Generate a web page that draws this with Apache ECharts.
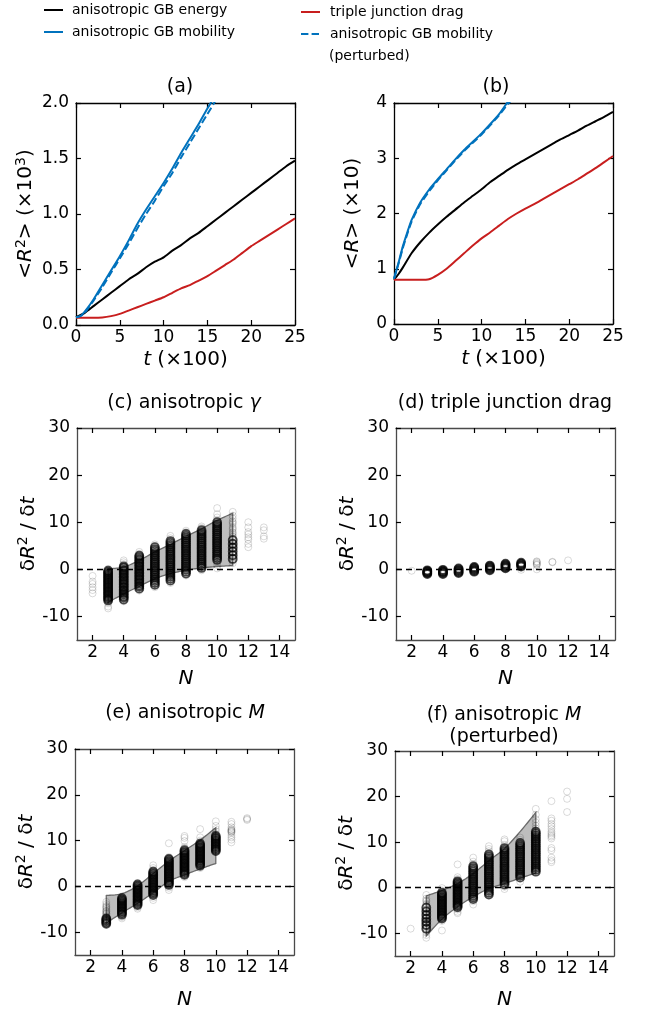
<!DOCTYPE html>
<html><head><meta charset="utf-8">
<script src="https://cdn.jsdelivr.net/npm/echarts@6/dist/echarts.min.js"></script>
<style>html,body{margin:0;padding:0;background:#fff}#c{width:645px;height:1011px}</style>
</head><body><div id="c"></div>
<script>
// ---------------- DATA ----------------
// (a) <R^2> (x10^3) vs t (x100)
const tA = [0,1,2,3,4,5,6,7,8,9,10,11,12,13,14,15,16,17,18,19,20,21,22,23,24,25];
const a_energy = [0.07,0.11,0.17,0.23,0.29,0.35,0.41,0.46,0.52,0.57,0.61,0.67,0.72,0.78,0.83,0.89,0.95,1.01,1.07,1.13,1.19,1.25,1.31,1.37,1.43,1.48];
const a_drag   = [0.065,0.065,0.065,0.068,0.08,0.10,0.13,0.16,0.19,0.22,0.25,0.29,0.33,0.36,0.40,0.44,0.49,0.54,0.59,0.65,0.71,0.76,0.81,0.86,0.91,0.96];
const tA_mob = [0,0.5,1,2,3,4,5,6,7,8,9,10,11,12,13,14,15,16];
const a_mobility     = [0.07,0.08,0.12,0.23,0.36,0.49,0.62,0.76,0.91,1.04,1.16,1.28,1.41,1.55,1.68,1.81,1.95,2.08];
const a_mobilityPert = [0.07,0.08,0.11,0.22,0.34,0.47,0.60,0.73,0.87,1.00,1.12,1.25,1.37,1.51,1.64,1.77,1.90,2.03];

// (b) <R> (x10) vs t (x100)
const tB = [0,0.5,1,2,3,4,5,6,7,8,9,10,11,12,13,14,15,16,17,18,19,20,21,22,23,24,25];
const b_energy = [0.80,0.90,1.02,1.28,1.48,1.65,1.80,1.94,2.07,2.20,2.32,2.44,2.57,2.68,2.79,2.89,2.98,3.07,3.16,3.25,3.34,3.42,3.50,3.59,3.67,3.75,3.84];
const b_drag   = [0.80,0.80,0.80,0.80,0.81,0.89,1.00,1.14,1.28,1.42,1.55,1.66,1.78,1.90,2.00,2.09,2.17,2.26,2.35,2.44,2.53,2.62,2.72,2.82,2.93,3.04,3.13];
const tB_mob = [0,0.5,1,1.5,2,3,4,5,6,7,8,9,10,11,12,13,14];
const b_mobility     = [0.82,1.10,1.40,1.65,1.88,2.20,2.43,2.62,2.80,2.98,3.15,3.30,3.45,3.62,3.80,4.02,4.20];
const b_mobilityPert = [0.82,1.08,1.37,1.62,1.85,2.17,2.40,2.60,2.78,2.96,3.13,3.28,3.43,3.60,3.78,3.98,4.16];

// scatter clouds: dR^2/dt per number of neighbours N (dense core / faint outliers)
const cCore = {
 3:[-6.6,-6.3,-6.0,-5.7,-5.4,-5.1,-4.8,-4.5,-4.2,-3.9,-3.6,-3.3,-3.0,-2.7,-2.4,-2.1,-1.8,-1.5,-1.2,-0.9,-0.6,-0.3],
 4:[-6.4,-6.0,-5.7,-5.3,-5.0,-4.6,-4.3,-3.9,-3.6,-3.2,-2.9,-2.5,-2.2,-1.8,-1.5,-1.1,-0.8,-0.4,-0.1,0.3,0.6],
 5:[-4.1,-3.7,-3.4,-3.0,-2.7,-2.3,-2.0,-1.6,-1.3,-0.9,-0.6,-0.2,0.1,0.5,0.8,1.2,1.5,1.9,2.2,2.6,2.9],
 6:[-3.3,-2.9,-2.5,-2.1,-1.7,-1.3,-0.9,-0.5,-0.1,0.3,0.7,1.1,1.5,1.9,2.3,2.7,3.1,3.5,3.9,4.3,4.7],
 7:[-2.4,-2.0,-1.6,-1.2,-0.8,-0.4,0.0,0.4,0.8,1.2,1.6,2.0,2.4,2.8,3.2,3.6,4.0,4.4,4.8,5.2,5.6,6.0],
 8:[-0.9,-0.5,-0.1,0.3,0.7,1.1,1.5,1.9,2.3,2.7,3.1,3.5,3.9,4.3,4.7,5.1,5.5,5.9,6.3,6.7,7.1,7.5],
 9:[0.3,0.7,1.1,1.5,1.9,2.3,2.7,3.1,3.5,3.9,4.3,4.7,5.1,5.5,5.9,6.3,6.7,7.1,7.5,7.9,8.3],
 10:[2.0,2.4,2.8,3.2,3.6,4.0,4.4,4.8,5.2,5.6,6.0,6.4,6.8,7.2,7.6,8.0,8.4,8.8,9.2,9.6,10.0],
 11:[2.2,3.0,3.8,4.6,5.4,6.2]
};
const cFaint = {
 2:[-1.4,-2.6,-3.1,-3.8,-4.4,-5.1],
 3:[-8.3,-7.9,-7.2,0.1],
 4:[1.1,1.5,1.9,-6.8],
 5:[3.3,3.7,-4.5],
 6:[5.3,-3.8],
 7:[6.6,7.1,-2.9],
 8:[7.9,8.2,-1.3],
 9:[8.8,9.1,-0.2],
 10:[13.0,11.7,11.0,10.5,1.5,0.9,0.2],
 11:[12.2,11.4,10.8,10.2,9.6,9.0,8.4,7.9,7.4,7.0,6.6,5.8,5.0,4.2,3.4,2.6,1.8,1.3,6.9,5.6,4.9,3.1,2.4,9.9,8.7,7.7],
 12:[10.0,8.9,7.9,7.4,6.8,6.3,5.4,4.7],
 13:[8.9,8.3,7.0,6.5]
};
const dCore = {
 3:[-1.0,-0.8,-0.7,-0.5,-0.4,-0.2],
 4:[-1.0,-0.8,-0.6,-0.5,-0.3,-0.1],
 5:[-0.8,-0.6,-0.4,-0.2,0.0,0.2],
 6:[-0.5,-0.3,-0.1,0.1,0.3,0.5],
 7:[-0.2,0.0,0.2,0.4,0.6,0.8],
 8:[0.2,0.4,0.6,0.8,1.0,1.2],
 9:[0.6,0.8,1.0,1.2,1.4]
};
const dFaint = {2:[-0.3], 9:[-0.1], 10:[0.0,0.9,1.0,1.2,1.4,1.6,1.7], 11:[1.5,1.6], 12:[1.9]};
const eCore = {
 3:[-8.2,-7.9,-7.6,-7.3,-7.0],
 4:[-6.2,-5.9,-5.6,-5.3,-5.0,-4.7,-4.4,-4.1,-3.8,-3.5,-3.2,-2.9,-2.6],
 5:[-4.1,-3.8,-3.5,-3.2,-2.9,-2.6,-2.3,-2.0,-1.7,-1.4,-1.1,-0.8,-0.5,-0.2,0.1,0.4],
 6:[-1.9,-1.6,-1.3,-1.0,-0.7,-0.4,-0.1,0.2,0.5,0.8,1.1,1.4,1.7,2.0,2.3,2.6,2.9,3.2],
 7:[0.3,0.6,0.9,1.2,1.5,1.8,2.1,2.4,2.7,3.0,3.3,3.6,3.9,4.2,4.5,4.8,5.1,5.4,5.7,6.0],
 8:[2.5,2.8,3.1,3.4,3.7,4.0,4.3,4.6,4.9,5.2,5.5,5.8,6.1,6.4,6.7,7.0,7.3,7.6,7.9],
 9:[4.5,4.8,5.1,5.4,5.7,6.0,6.3,6.6,6.9,7.2,7.5,7.8,8.1,8.4,8.7,9.0,9.3],
 10:[7.7,8.0,8.3,8.6,8.9,9.2,9.5,9.8,10.1,10.4,10.7,11.0]
};
const eFaint = {
 3:[-3.4,-3.9,-4.3,-4.7,-5.0,-5.3,-5.6,-5.9,-6.2,-6.5,-6.8,-5.5,-6.0,-4.5],
 4:[-2.2,-6.7,-7.0],
 5:[0.7,-4.6,-4.9],
 6:[3.6,4.0,4.6,-2.5,-3.0],
 7:[6.4,9.4,-0.3,-0.8],
 8:[11.0,10.6,9.9,8.6,8.3,2.0],
 9:[12.5,10.7,10.0,9.7,4.0],
 10:[14.2,13.2,12.5,12.0,11.5],
 11:[14.1,13.6,12.9,12.5,12.2,12.0,11.7,11.2,10.7,10.2,9.6,12.3,11.9],
 12:[14.9,14.5,14.7]
};
const fCore = {
 3:[-9.0,-8.2,-7.5,-6.8,-6.0,-5.2,-4.4],
 4:[-6.8,-6.5,-6.2,-5.9,-5.6,-5.3,-5.0,-4.7,-4.4,-4.1,-3.8,-3.5,-3.2,-2.9,-2.6,-2.3,-2.0,-1.7,-1.4,-1.1],
 5:[-4.3,-4.0,-3.7,-3.4,-3.1,-2.8,-2.5,-2.2,-1.9,-1.6,-1.3,-1.0,-0.7,-0.4,-0.1,0.2,0.5,0.8,1.1,1.4],
 6:[-2.5,-2.1,-1.7,-1.3,-0.9,-0.5,-0.1,0.3,0.7,1.1,1.5,1.9,2.3,2.7,3.1,3.5,3.9,4.3,4.7],
 7:[-1.5,-1.1,-0.7,-0.3,0.1,0.5,0.9,1.3,1.7,2.1,2.5,2.9,3.3,3.7,4.1,4.5,4.9,5.3,5.7,6.1,6.5,6.9,7.3],
 8:[0.7,1.1,1.5,1.9,2.3,2.7,3.1,3.5,3.9,4.3,4.7,5.1,5.5,5.9,6.3,6.7,7.1,7.5,7.9,8.3,8.7],
 9:[2.2,2.6,3.0,3.4,3.8,4.2,4.6,5.0,5.4,5.8,6.2,6.6,7.0,7.4,7.8,8.2,8.6,9.0,9.4,9.8],
 10:[3.5,3.9,4.3,4.7,5.1,5.5,5.9,6.3,6.7,7.1,7.5,7.9,8.3,8.7,9.1,9.5,9.9,10.3,10.7,11.1,11.5,11.9,12.3]
};
const fFaint = {
 2:[-9.0],
 3:[-1.6,-2.4,-3.0,-3.5,-4.0,-4.7,-5.5,-6.3,-7.0,-7.8,-8.5,-9.3,-9.8,-10.4,-11.0,-2.8,-3.8,-5.9,-6.6,-8.8],
 4:[-0.1,-0.6,-7.3,-9.4],
 5:[5.1,2.3,1.9,-4.8,-5.3,-5.6],
 6:[6.6,5.7,5.2,-3.0,-3.7],
 7:[9.1,8.5,8.0],
 8:[10.6,10.2,9.4,0.2,-0.3],
 9:[11.0,10.5,1.3],
 10:[17.3,16.0,15.0,14.3,13.6,13.0],
 11:[19.0,15.2,14.7,14.0,13.5,12.9,12.3,11.9,11.5,11.2,10.8,8.7,8.2,6.6,6.0,5.6],
 12:[21.1,19.5,16.6]
};
// envelope bands
const cBandN = [3,4,5,6,7,8,9,10,11];
const cUpper = [0.1,0.5,1.9,3.7,5.3,7.0,8.6,10.4,11.9];
const cLower = [-7.0,-5.2,-3.6,-2.0,-0.9,-0.2,0.3,0.6,0.8];
const bandN = [3,4,5,6,7,8,9,10];
const eUpper = [-2.0,-1.6,0.1,2.8,5.5,7.8,10.1,12.8];
const eLower = [-8.0,-5.8,-3.7,-1.4,1.1,2.5,3.8,5.0];
const fUpper = [-1.8,-0.6,0.9,3.1,5.9,8.6,12.3,16.5];
const fLower = [-10.6,-6.9,-4.2,-2.0,-0.2,0.9,2.1,3.2];
// ticks
const nTicks = [2,4,6,8,10,12,14];
const rateTicks = [-10,0,10,20,30];

// ---------------- CHART ----------------
const FF = 'DejaVu Sans';
const BLUE = '#0072bd', RED = '#c81e1e';
const pairs = (xs, ys) => xs.map((x, i) => [x, ys[i]]);
const cloud = obj => { const out = []; Object.keys(obj).forEach(k => obj[k].forEach(v => out.push([+k, v]))); return out; };

const grid = [
  {left:76, top:103, width:219, height:222},
  {left:394, top:103, width:219, height:221},
  {left:77, top:428, width:218, height:212},
  {left:396, top:428, width:219, height:212},
  {left:75, top:749, width:219, height:213},
  {left:395, top:751, width:219, height:212}
];

const richName = {
  n:{fontFamily:FF, fontSize:20, color:'#000', lineHeight:24},
  i:{fontFamily:FF, fontSize:20, fontStyle:'italic', color:'#000', lineHeight:24},
  s:{fontFamily:FF, fontSize:14, color:'#000', lineHeight:14, verticalAlign:'top'}
};
const nameStyle = {fontFamily:FF, fontSize:20, color:'#000', rich:richName};

const xAxis = [], yAxis = [];
function addAxes(gi, xc, yc, frame) {
  const line = {show:true, onZero:false, lineStyle:{color:frame, width:1.3}};
  const tk = vals => Object.assign({show:true, inside:true, length:5, lineStyle:{color:'#000', width:1.2}}, vals ? {customValues:vals} : {});
  const lbl = (vals, fmt, margin) => Object.assign({show:true, fontFamily:FF, fontSize:17, color:'#000', margin:margin}, fmt ? {formatter:fmt} : {}, vals ? {customValues:vals} : {});
  const bx = {type:'value', gridIndex:gi, min:xc.min, max:xc.max, interval:xc.interval, splitLine:{show:false}, axisLine:line, z:3};
  xAxis.push(Object.assign({}, bx, {position:'bottom', axisTick:tk(xc.ticks), axisLabel:lbl(xc.ticks, xc.fmt, 4),
    name:xc.name, nameLocation:'middle', nameGap:xc.gap, nameTextStyle:nameStyle}));
  xAxis.push(Object.assign({}, bx, {position:'top', axisTick:tk(xc.ticks), axisLabel:{show:false}}));
  const by = {type:'value', gridIndex:gi, min:yc.min, max:yc.max, interval:yc.interval, splitLine:{show:false}, axisLine:line, z:3};
  yAxis.push(Object.assign({}, by, {position:'left', axisTick:tk(yc.ticks), axisLabel:lbl(yc.ticks, yc.fmt, 7),
    name:yc.name, nameLocation:'middle', nameRotate:90, nameGap:yc.gap, nameTextStyle:nameStyle}));
  yAxis.push(Object.assign({}, by, {position:'right', axisTick:tk(yc.ticks), axisLabel:{show:false}}));
}
const tName = '{i|t}{n| (×100)}';
const nName = '{i|N}';
const rateName = '{n|δ}{i|R}{s|2}{n| / δ}{i|t}';
addAxes(0, {min:0,max:25,interval:5,name:tName,gap:23}, {min:0,max:2,interval:0.5,fmt:v=>v.toFixed(1),name:'{n|<}{i|R}{s|2}{n|> (×10}{s|3}{n|)}',gap:38}, '#000');
addAxes(1, {min:0,max:25,interval:5,name:tName,gap:23}, {min:0,max:4,interval:1,name:'{n|<}{i|R}{n|> (×10)}',gap:29}, '#000');
const sx = (gap) => ({min:1,max:15,interval:1,ticks:nTicks,name:nName,gap:gap});
const sy = (gap) => ({min:-15,max:30,interval:5,ticks:rateTicks,name:rateName,gap:gap});
addAxes(2, sx(27), sy(36), '#4a4a4a');
addAxes(3, sx(27), sy(36), '#4a4a4a');
addAxes(4, sx(33), sy(35), '#4a4a4a');
addAxes(5, sx(32), sy(35), '#4a4a4a');

const series = [];
function lineSeries(gi, name, xs, ys, color, dashed) {
  series.push({type:'line', name:name, xAxisIndex:2*gi, yAxisIndex:2*gi, data:pairs(xs, ys), symbol:'none', showSymbol:false,
    smooth:0.2, clip:true, silent:true, color:color,
    lineStyle:{color:color, width:2, type: dashed ? [7.4,3.2] : 'solid'}, itemStyle:{color:color}});
}
const NE = 'anisotropic GB energy', NM = 'anisotropic GB mobility', ND = 'triple junction drag', NP = 'anisotropic GB mobility (perturbed)';
lineSeries(0, NE, tA, a_energy, '#000');
lineSeries(0, ND, tA, a_drag, RED);
lineSeries(0, NM, tA_mob, a_mobility, BLUE);
lineSeries(0, NP, tA_mob, a_mobilityPert, BLUE, true);
lineSeries(1, NE, tB, b_energy, '#000');
lineSeries(1, ND, tA, b_drag, RED);
lineSeries(1, NM, tB_mob, b_mobility, BLUE);
lineSeries(1, NP, tB_mob, b_mobilityPert, BLUE, true);

// smooth a pixel-space polyline (Catmull-Rom) for drawing the band outline
function smoothPts(pts, seg) {
  const out = [], n = pts.length;
  for (let i = 0; i < n - 1; i++) {
    const p0 = pts[Math.max(i - 1, 0)], p1 = pts[i], p2 = pts[i + 1], p3 = pts[Math.min(i + 2, n - 1)];
    for (let k = 0; k < seg; k++) {
      const t = k / seg, t2 = t * t, t3 = t2 * t;
      const f = d => 0.5 * (2 * p1[d] + (-p0[d] + p2[d]) * t + (2 * p0[d] - 5 * p1[d] + 4 * p2[d] - p3[d]) * t2 + (-p0[d] + 3 * p1[d] - 3 * p2[d] + p3[d]) * t3);
      out.push([f(0), f(1)]);
    }
  }
  out.push(pts[n - 1]);
  return out;
}
function band(gi, xs, lo, hi) {
  series.push({type:'custom', coordinateSystem:'cartesian2d', xAxisIndex:2*gi, yAxisIndex:2*gi, silent:true, z:1,
    data:[[xs[0], lo[0]]],
    renderItem:(params, api) => {
      const up = smoothPts(xs.map((x, i) => api.coord([x, hi[i]])), 10);
      const dn = smoothPts(xs.map((x, i) => api.coord([x, lo[i]])), 10).reverse();
      return {type:'polygon', shape:{points:up.concat(dn)}, style:{fill:'#bdbdbd', stroke:'#6a6a6a', lineWidth:1.3}};
    }});
}
const zeroLine = {silent:true, symbol:'none', label:{show:false}, animation:false,
  lineStyle:{color:'#000', type:[6,4], width:1.3}, data:[{yAxis:0}]};
function clouds(gi, core, faint) {
  series.push({type:'scatter', xAxisIndex:2*gi, yAxisIndex:2*gi, data:cloud(faint), symbol:'circle', symbolSize:7, silent:true, z:2,
    itemStyle:{color:'rgba(0,0,0,0)', borderColor:'rgba(0,0,0,0.18)', borderWidth:1}});
  series.push({type:'scatter', xAxisIndex:2*gi, yAxisIndex:2*gi, data:cloud(core), symbol:'circle', symbolSize:8, silent:true, z:3,
    itemStyle:{color:'rgba(0,0,0,0)', borderColor:'rgba(0,0,0,0.9)', borderWidth:1.8}, markLine:zeroLine});
}
band(2, cBandN, cLower, cUpper);
clouds(2, cCore, cFaint);
clouds(3, dCore, dFaint);
band(4, bandN, eLower, eUpper);
clouds(4, eCore, eFaint);
band(5, bandN, fLower, fUpper);
clouds(5, fCore, fFaint);

const tStyle = {fontFamily:FF, fontSize:19, fontWeight:'normal', color:'#000', lineHeight:22,
  rich:{i:{fontFamily:FF, fontSize:19, fontStyle:'italic', color:'#000', lineHeight:22}}};
const mkTitle = (text, x, y) => ({text:text, left:x, top:y, textAlign:'center', padding:0, itemGap:0, textStyle:tStyle});
const title = [
  mkTitle('(a)', 180, 76),
  mkTitle('(b)', 496, 76),
  mkTitle('(c) anisotropic {i|γ}', 184, 392),
  mkTitle('(d) triple junction drag', 505, 392),
  mkTitle('(e) anisotropic {i|M}', 185, 702),
  mkTitle('(f) anisotropic {i|M}\n(perturbed)', 504, 704),
  // second line of the perturbed legend entry
  {text:'(perturbed)', left:329, top:48, padding:0, textStyle:{fontFamily:FF, fontSize:14, fontWeight:'normal', color:'#000', lineHeight:16}}
];

const legText = {fontFamily:FF, fontSize:14, color:'#000', lineHeight:14};
const legend = [
  {left:43, top:3, orient:'vertical', padding:0, itemWidth:19, itemHeight:14, itemGap:8, selectedMode:false,
   itemStyle:{opacity:0}, textStyle:Object.assign({}, legText, {padding:[0,0,0,4]}), data:[NE, NM]},
  {left:300, top:5, orient:'vertical', padding:0, itemWidth:19, itemHeight:14, itemGap:8, selectedMode:false,
   itemStyle:{opacity:0}, textStyle:Object.assign({}, legText, {padding:[0,0,0,5]}),
   formatter: n => n === NP ? 'anisotropic GB mobility' : n,
   data:[ND, NP]}
];

const chart = echarts.init(document.getElementById('c'), null, {renderer:'canvas'});
chart.setOption({animation:false, backgroundColor:'#fff', title:title, legend:legend, grid:grid, xAxis:xAxis, yAxis:yAxis, series:series});
</script></body></html>
